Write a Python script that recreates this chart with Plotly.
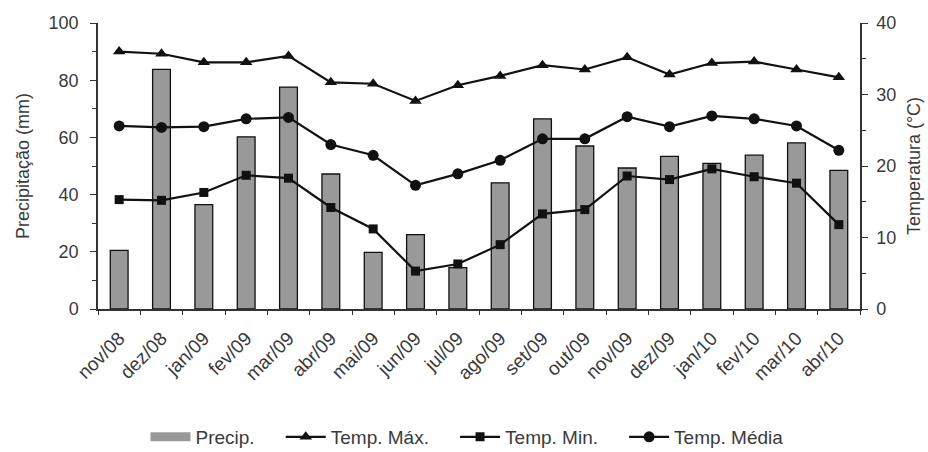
import plotly.graph_objects as go

months = ["nov/08", "dez/08", "jan/09", "fev/09", "mar/09", "abr/09", "mai/09", "jun/09", "jul/09",
          "ago/09", "set/09", "out/09", "nov/09", "dez/09", "jan/10", "fev/10", "mar/10", "abr/10"]
precip = [20.5, 83.8, 36.5, 60.2, 77.6, 47.2, 19.8, 26.0, 14.5,
          44.1, 66.5, 57.0, 49.3, 53.4, 50.9, 53.8, 58.1, 48.5]
temp_max = [36.0, 35.7, 34.5, 34.5, 35.4, 31.7, 31.5, 29.1, 31.3,
            32.6, 34.1, 33.5, 35.2, 32.8, 34.4, 34.6, 33.5, 32.4]
temp_min = [15.3, 15.2, 16.3, 18.7, 18.3, 14.2, 11.2, 5.3, 6.3,
            9.0, 13.3, 13.9, 18.6, 18.1, 19.6, 18.5, 17.6, 11.8]
temp_med = [25.6, 25.4, 25.5, 26.6, 26.8, 23.0, 21.5, 17.3, 18.9,
            20.8, 23.8, 23.8, 26.9, 25.5, 27.0, 26.6, 25.6, 22.2]
series_names = ["Precip.", "Temp. Máx.", "Temp. Min.", "Temp. Média"]

font_family = "Liberation Sans, Arial, sans-serif"
txt = "#3a3a3a"
axc = "#333333"
bar_fill = "#999999"
pad = "\u00a0" * 4

fig = go.Figure()
fig.add_trace(go.Bar(x=months, y=precip, name=series_names[0], width=0.42, showlegend=False,
                     marker=dict(color=bar_fill, line=dict(color="#111111", width=1.3)),
                     yaxis="y"))
# legend entry for the bars (wide rectangle symbol)
fig.add_trace(go.Scatter(x=[None], y=[None], name=series_names[0] + pad, mode="lines",
                         line=dict(color=bar_fill, width=9), yaxis="y", hoverinfo="skip"))
fig.add_trace(go.Scatter(x=months, y=temp_max, name=series_names[1] + pad, mode="lines+markers",
                         line=dict(color="#111111", width=2.2),
                         marker=dict(symbol="triangle-up", size=11, color="#111111"),
                         yaxis="y2"))
fig.add_trace(go.Scatter(x=months, y=temp_min, name=series_names[2] + pad, mode="lines+markers",
                         line=dict(color="#111111", width=2.2),
                         marker=dict(symbol="square", size=9, color="#111111"),
                         yaxis="y2"))
fig.add_trace(go.Scatter(x=months, y=temp_med, name=series_names[3], mode="lines+markers",
                         line=dict(color="#111111", width=2.2),
                         marker=dict(symbol="circle", size=11, color="#111111"),
                         yaxis="y2"))

fig.update_layout(
    width=928, height=452,
    margin=dict(l=98, r=68, t=23, b=143, autoexpand=False),
    paper_bgcolor="white", plot_bgcolor="white",
    font=dict(family=font_family, size=18, color=txt),
    showlegend=True,
    legend=dict(orientation="h", xref="container", x=467 / 928, xanchor="center",
                yref="container", y=15 / 452, yanchor="middle", itemwidth=40,
                font=dict(size=19, color=txt), traceorder="normal", tracegroupgap=0),
    xaxis=dict(type="category", tickangle=-45, showgrid=False, showline=True,
               linecolor=axc, linewidth=1.5, ticks="outside", ticklen=4, tickcolor=axc,
               tickson="boundaries", ticklabelstandoff=9,
               tickfont=dict(size=19, color=txt), range=[-0.5, 17.5]),
    yaxis=dict(range=[0, 100], dtick=20, showgrid=False, zeroline=False, showline=True,
               linecolor=axc, linewidth=1.5, ticks="outside", ticklen=6, tickcolor=axc,
               minor=dict(ticks="outside", dtick=10, ticklen=4, tickcolor=axc),
               ticklabelstandoff=8,
               tickfont=dict(size=18, color=txt),
               title=dict(text="Precipitação (mm)", font=dict(size=18, color=txt), standoff=14)),
    yaxis2=dict(range=[0, 40], dtick=10, overlaying="y", side="right", showgrid=False,
                zeroline=False, showline=True, linecolor=axc, linewidth=1.5,
                ticks="outside", ticklen=6, tickcolor=axc,
                minor=dict(ticks="outside", dtick=5, ticklen=4, tickcolor=axc),
                ticklabelstandoff=5,
                tickfont=dict(size=18, color=txt),
                title=dict(text="Temperatura (°C)", font=dict(size=18, color=txt), standoff=12)),
)

fig.write_html("out.html", config={"displayModeBar": False},
               post_script="document.body.style.margin='0';")
